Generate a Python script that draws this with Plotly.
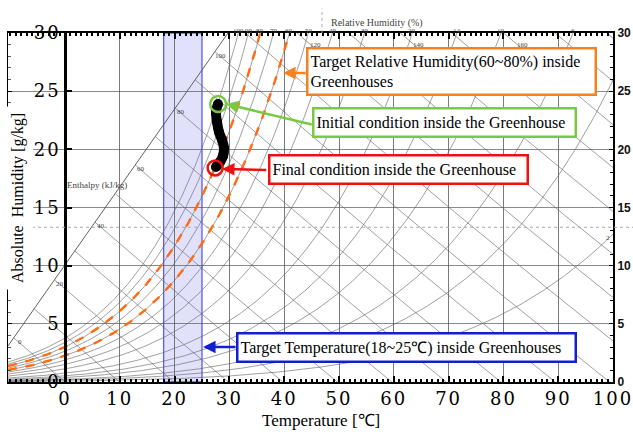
import numpy as np
import plotly.graph_objects as go

# ---------------- data ----------------
rh_levels = [100, 90, 80, 70, 60, 50, 40, 30, 20, 14, 10, 6, 4, 2]
rh_top_labels = [100, 90, 80, 70, 60, 50, 40, 30, 20, 14, 10, 6]
target_rh = [80, 60]
enthalpy_levels = [0, 10, 20, 30, 40, 50, 60, 70, 80, 90, 100, 110, 120, 130,
                   140, 150, 160, 170, 180]
enthalpy_scale_labels = [0, 20, 40, 60, 80, 100]
enthalpy_top_labels = [120, 140, 160]
scale_line_temp = [-10.4, 29.75]
scale_line_hum = [3.1, 30.0]
target_temp = [18, 25]
traj_temp = [27.92, 27.55, 27.74, 28.10, 28.65, 29.01, 28.83, 28.28, 27.55]
traj_hum = [23.90, 23.21, 22.35, 21.49, 20.80, 20.12, 19.43, 18.91, 18.48]
initial_point = [27.95, 23.9]
final_point = [27.4, 18.4]
x_ticks = [0, 10, 20, 30, 40, 50, 60, 70, 80, 90, 100]
y_ticks = [0, 5, 10, 15, 20, 25, 30]

X_RANGE = [-10.4, 100]
Y_RANGE = [0, 30]
P_ATM = 101.325
SERIF = "Liberation Serif"


def psat(T):
    TK = np.asarray(T, dtype=float) + 273.15
    ln = (-5.8002206e3 / TK + 1.3914993 - 4.8640239e-2 * TK + 4.1764768e-5 * TK ** 2
          - 1.4452093e-8 * TK ** 3 + 6.5459673 * np.log(TK))
    return np.exp(ln) / 1000.0


def w_rh(T, rh):
    pv = rh / 100.0 * psat(T)
    return 622.0 * pv / (P_ATM - pv)


def enth(T, w):
    return 1.006 * T + w / 1000.0 * (2501 + 1.86 * T)


def t_on_h(h, w):
    return (h - 2.501 * w) / (1.006 + 0.00186 * w)


fig = go.Figure()

# RH curves
Tgrid = np.arange(X_RANGE[0], 100.001, 0.2)
for rh in rh_levels:
    w = w_rh(Tgrid, rh)
    mask = (w < 32) & (w > 0)
    fig.add_trace(go.Scatter(x=Tgrid[mask], y=w[mask], mode="lines",
                             line=dict(color="rgba(95,95,95,0.75)", width=0.8),
                             hoverinfo="skip", showlegend=False))

# enthalpy scale line
fig.add_trace(go.Scatter(x=scale_line_temp, y=scale_line_hum, mode="lines",
                         line=dict(color="rgba(80,80,80,0.9)", width=1),
                         hoverinfo="skip", showlegend=False))

sl_T = np.linspace(scale_line_temp[0], scale_line_temp[1], 2000)
sl_w = np.interp(sl_T, scale_line_temp, scale_line_hum)
sl_h = enth(sl_T, sl_w)


def scale_point(h):
    T = float(np.interp(h, sl_h, sl_T))
    return T, float(np.interp(T, scale_line_temp, scale_line_hum))


# enthalpy lines
for h in enthalpy_levels:
    if h <= sl_h[-1]:
        _, w0 = scale_point(h)
    else:
        w0 = Y_RANGE[1]
    ww = np.linspace(w0, 0, 200)
    tt = t_on_h(h, ww)
    fig.add_trace(go.Scatter(x=tt, y=ww, mode="lines",
                             line=dict(color="rgba(95,95,95,0.75)", width=0.8),
                             hoverinfo="skip", showlegend=False))

# target RH curves (orange dashed)
for rh in target_rh:
    w = w_rh(Tgrid, rh)
    mask = w < 32
    fig.add_trace(go.Scatter(x=Tgrid[mask], y=w[mask], mode="lines",
                             line=dict(color="#ff6a13", width=2.4, dash="dash"),
                             hoverinfo="skip", showlegend=False))

# trajectory
fig.add_trace(go.Scatter(x=traj_temp, y=traj_hum, mode="lines+markers",
                         line=dict(color="black", width=10, shape="spline"),
                         marker=dict(color="black", size=10),
                         hoverinfo="skip", showlegend=False))
fig.add_trace(go.Scatter(x=[initial_point[0]], y=[initial_point[1]], mode="markers",
                         marker=dict(symbol="circle-open", size=16, color="#77c745",
                                     line=dict(width=2.5, color="#77c745")),
                         hoverinfo="skip", showlegend=False))
fig.add_trace(go.Scatter(x=[final_point[0]], y=[final_point[1]], mode="markers",
                         marker=dict(symbol="circle-open", size=15, color="#ee1111",
                                     line=dict(width=2.5, color="#ee1111")),
                         hoverinfo="skip", showlegend=False))

# dummy traces for secondary axes
fig.add_trace(go.Scatter(x=[50], y=[15], yaxis="y2", mode="markers",
                         marker=dict(opacity=0), hoverinfo="skip", showlegend=False))
fig.add_trace(go.Scatter(x=[50], y=[15], yaxis="y3", mode="markers",
                         marker=dict(opacity=0), hoverinfo="skip", showlegend=False))

# target temperature band
fig.add_shape(type="rect", x0=target_temp[0], x1=target_temp[1], y0=Y_RANGE[0], y1=Y_RANGE[1],
              xref="x", yref="y", fillcolor="rgba(205,205,248,0.6)",
              line=dict(color="#5c5cf0", width=1.3), layer="below")

# dotted artefact lines
fig.add_shape(type="line", xref="paper", yref="y", x0=0, x1=1.04, y0=13.3, y1=13.3,
              line=dict(color="#aaaaaa", width=1, dash="dot"))
fig.add_shape(type="line", xref="x", yref="paper", x0=46.9, x1=46.9, y0=1.0, y1=1.07,
              line=dict(color="#aaaaaa", width=1, dash="dot"))

ann = []


def spaced(t, sp):
    return f'<span style="letter-spacing:{sp}px">{t}</span>'


# scale labels
for h in enthalpy_scale_labels:
    T, w = scale_point(h)
    ann.append(dict(x=T, y=w, xref="x", yref="y", text=str(h), showarrow=False,
                    xshift=6, yshift=-4, font=dict(family=SERIF, size=7, color="#444")))
for h in enthalpy_top_labels:
    T = t_on_h(h, 29.0)
    ann.append(dict(x=T, y=29.0, xref="x", yref="y", text=str(h), showarrow=False,
                    xshift=5, yshift=0, font=dict(family=SERIF, size=7, color="#444")))
ann.append(dict(x=5.8, y=16.9, xref="x", yref="y", text="Enthalpy (kJ/kg)", showarrow=False,
                font=dict(family=SERIF, size=9, color="#444")))

# RH labels at top
Tfine = np.arange(-10, 110, 0.01)
pv_top = Y_RANGE[1] * P_ATM / (622.0 + Y_RANGE[1])
ps_fine = psat(Tfine)
for rh in rh_top_labels:
    T = float(np.interp(pv_top / (rh / 100.0), ps_fine, Tfine))
    ann.append(dict(x=T, y=1, xref="x", yref="paper", text=str(rh), showarrow=False,
                    yshift=8, font=dict(family=SERIF, size=7, color="#444")))
ann.append(dict(x=99.1, y=12.4, xref="x", yref="y", text="2", showarrow=False,
                font=dict(family=SERIF, size=7, color="#444")))
ann.append(dict(x=56.9, y=1, xref="x", yref="paper", text="Relative Humidity (%)",
                showarrow=False, yshift=18, font=dict(family=SERIF, size=10, color="#444")))

# axis titles
ann.append(dict(x=-8.6, y=15.8, xref="x", yref="y", text="Absolute  Humidity [g/kg]",
                textangle=-90, showarrow=False, bgcolor="white", borderpad=6,
                font=dict(family=SERIF, size=16, color="black")))
ann.append(dict(x=46.7, y=0, xref="x", yref="paper", text="Temperature [℃]", showarrow=False,
                yanchor="middle", yshift=-38, font=dict(family=SERIF, size=17, color="black")))

# callout boxes
boxes = [
    ("Target Relative Humidity(60~80%) inside<br>Greenhouses", 70.6, 26.69, 282, 40, "#f58220"),
    ("Initial condition inside the Greenhouse", 69.3, 22.31, 256, 22, "#7ac943"),
    ("Final condition inside the Greenhouse", 60.8, 18.23, 252, 22, "#ee1111"),
    ("Target Temperature(18~25℃) inside Greenhouses", 62.4, 2.97, 332, 22, "#1020d0"),
]
for text, x, y, wdt, hgt, col in boxes:
    ann.append(dict(x=x, y=y, xref="x", yref="y", text=text, showarrow=False, align="left",
                    width=wdt, height=hgt, bgcolor="white", bordercolor=col, borderwidth=2.5,
                    borderpad=2, font=dict(family=SERIF, size=16, color="black")))

arrows = [
    (39.8, 26.57, 44.2, 26.57, "#f58220"),
    (29.4, 23.9, 45.3, 22.1, "#7ac943"),
    (28.65, 18.31, 37.0, 18.23, "#ee1111"),
    (25.2, 3.01, 31.4, 3.01, "#1020d0"),
]
for hx, hy, tx, ty, col in arrows:
    ann.append(dict(x=hx, y=hy, ax=tx, ay=ty, xref="x", yref="y", axref="x", ayref="y",
                    text="", showarrow=True, arrowhead=2, arrowsize=1.0, arrowwidth=2.5,
                    arrowcolor=col, standoff=0))

fig.update_layout(
    width=633, height=432,
    margin=dict(l=8, r=20, t=33, b=50, autoexpand=False),
    paper_bgcolor="white", plot_bgcolor="white",
    showlegend=False,
    annotations=ann,
    xaxis=dict(range=X_RANGE, tickvals=x_ticks, automargin=False, ticklabeloverflow="allow",
               ticktext=[spaced(str(v), 2) for v in x_ticks],
               tickfont=dict(family="DejaVu Serif", size=18, color="black"),
               showgrid=True, gridcolor="rgba(90,90,90,0.8)", gridwidth=1,
               zeroline=False, showline=True, linecolor="black", linewidth=1.5,
               mirror="ticks", ticks="inside", ticklen=6, tickcolor="black", tickwidth=1.5,
               minor=dict(dtick=1, ticks="inside", ticklen=3, tickcolor="black", showgrid=False)),
    yaxis=dict(range=Y_RANGE, tickvals=y_ticks, showticklabels=False, automargin=False,
               showgrid=True, gridcolor="rgba(90,90,90,0.7)", gridwidth=1,
               zeroline=False, showline=True, linecolor="black", linewidth=1,
               ticks="inside", ticklen=4, tickcolor="black",
               minor=dict(dtick=1, ticks="inside", ticklen=3, tickcolor="#555", showgrid=False)),
    yaxis2=dict(range=Y_RANGE, overlaying="y", side="right", anchor="x", tickvals=y_ticks,
                automargin=False, ticklabeloverflow="allow",
                tickfont=dict(family="Liberation Sans", size=12, color="#111", weight="bold"),
                showgrid=False, zeroline=False, showline=True, linecolor="black", linewidth=2,
                ticks="inside", ticklen=4, tickcolor="black",
                minor=dict(dtick=1, ticks="inside", ticklen=3, tickcolor="black")),
    yaxis3=dict(range=Y_RANGE, overlaying="y", anchor="free", side="left", automargin=False,
                position=(0 - X_RANGE[0]) / (X_RANGE[1] - X_RANGE[0]),
                tickvals=y_ticks, ticktext=[spaced(str(v), 2) for v in y_ticks],
                tickfont=dict(family="DejaVu Serif", size=18, color="black"),
                showgrid=False, zeroline=False, showline=True, linecolor="black", linewidth=2.5,
                ticks="inside", ticklen=5, tickcolor="black", tickwidth=1.5),
)

fig.write_html("out.html")
